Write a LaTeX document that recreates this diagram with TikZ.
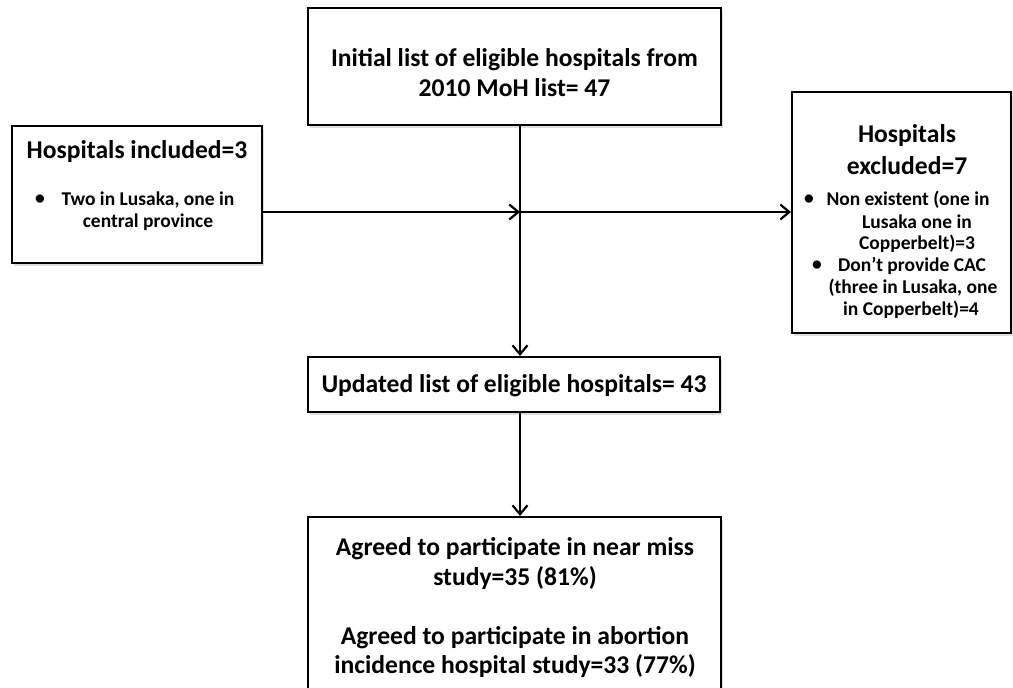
\documentclass[tikz,border=0pt]{standalone}
\usepackage{fontspec}
\setmainfont{Carlito}
\usetikzlibrary{arrows.meta,shadows}
\begin{document}
\begin{tikzpicture}[x=1pt,y=-1pt,
  box/.style={draw=black,line width=2pt,fill=white,inner sep=0pt,
    drop shadow={shadow xshift=2pt,shadow yshift=-3pt,opacity=0.25}},
  bigtxt/.style={font=\bfseries\fontsize{25.6}{29.5}\selectfont,align=center,inner sep=0pt},
  titletxt/.style={font=\bfseries\fontsize{25.6}{32}\selectfont,align=center,inner sep=0pt},
  smalltxt/.style={font=\bfseries\fontsize{19.5}{22}\selectfont,align=center,inner sep=0pt},
  conn/.style={line width=2pt,-{Straight Barb[length=9pt,width=15pt,line width=2.2pt]}}]
\useasboundingbox (0,0) rectangle (1013,688);
% boxes
\node[box,minimum width=413pt,minimum height=117pt] (top) at (514.5,66.5) {};
\node[box,minimum width=250pt,minimum height=137pt] (left) at (137,194.5) {};
\node[box,minimum width=219pt,minimum height=241pt] (right) at (901.5,212.5) {};
\node[box,minimum width=412pt,minimum height=55pt] (mid) at (514,384.5) {};
\node[box,minimum width=413pt,minimum height=190pt] (bot) at (514.5,612) {};
% texts
\node[bigtxt] (toptxt) at (514.5,72.5) {Initial list of eligible hospitals from\\2010 MoH list= 47};
\node[titletxt] (lefttitle) at (137,152) {Hospitals included=3};
\node[smalltxt] (lbul) at (40,200) {\textbullet};
\node[smalltxt] (ltxt) at (148,211) {Two in Lusaka, one in\\central province};
\node[titletxt] (righttitle) at (907,150) {Hospitals\\excluded=7};
\node[smalltxt] (rbul1) at (809,200) {\textbullet};
\node[smalltxt] (r1a) at (908,200) {Non existent (one in};
\node[smalltxt] (r1b) at (917,222) {Lusaka one in};
\node[smalltxt] (r1c) at (917,244) {Copperbelt)=3};
\node[smalltxt] (rbul2) at (817,266) {\textbullet};
\node[smalltxt] (r2a) at (912,266) {Don’t provide CAC};
\node[smalltxt] (r2b) at (913,288) {(three in Lusaka, one};
\node[smalltxt] (r2c) at (911,310) {in Copperbelt)=4};
\node[bigtxt] (midtxt) at (514,386) {Updated list of eligible hospitals= 43};
\node[bigtxt] (bottxt1) at (515,563.5) {Agreed to participate in near miss\\study=35 (81\%)};
\node[bigtxt] (bottxt2) at (515,652) {Agreed to participate in abortion\\incidence hospital study=33 (77\%)};
% connectors
\coordinate (j) at (520,212);
\draw[conn] (top.south -| j) -- (mid.north -| j);
\draw[conn] (left.east |- j) -- (j);
\draw[conn] (j) -- (right.west |- j);
\draw[conn] (mid.south -| j) -- (bot.north -| j);
\end{tikzpicture}
\end{document}
